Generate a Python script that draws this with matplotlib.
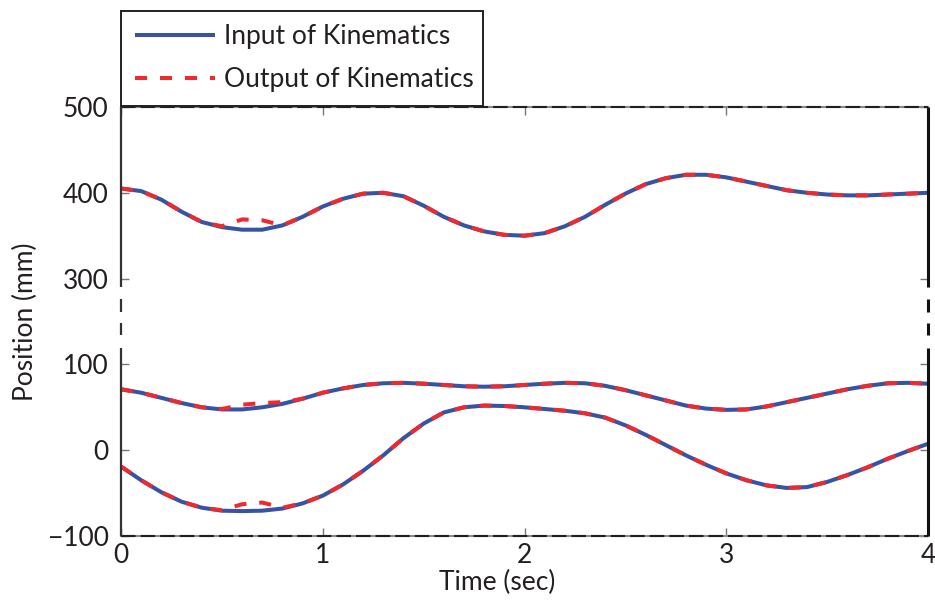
import numpy as np
import matplotlib
matplotlib.use("Agg")
import matplotlib.pyplot as plt
import matplotlib.transforms as mtransforms

# Temps (s)
t = np.round(np.arange(0, 4.01, 0.1), 2)

haut_in = [405, 402, 392, 378, 366, 360, 357, 357, 362, 372,
           384, 393, 399, 400, 396, 385, 372, 362, 355, 351,
           350, 353, 361, 372, 386, 399, 410, 417, 421, 421,
           418, 413, 408, 403, 400, 398, 397, 397, 398, 399, 400]
haut_out = [405, 402, 392, 378, 366, 361, 369, 368, 362, 372,
            384, 393, 399, 400, 396, 385, 372, 362, 355, 351,
            350, 353, 361, 372, 386, 399, 410, 417, 421, 421,
            418, 413, 408, 403, 400, 398, 397, 397, 398, 399, 400]

# Courbe du milieu (mm)
mil_in = [71, 67, 61, 55, 50, 47.5, 47.5, 50, 54, 60,
          67, 72, 76, 78, 78.5, 77.5, 76, 74.5, 74, 74.5,
          76, 77.5, 78.5, 78, 75, 70, 64, 58, 52, 48.5,
          47, 47.5, 51, 56, 61, 66, 71, 75, 78, 78.5, 77.5]
mil_out = [71, 67, 61, 55, 50, 48, 53, 55, 56, 60,
           67, 72, 76, 78, 78.5, 77.5, 76, 74.5, 74, 74.5,
           76, 77.5, 78.5, 78, 75, 70, 64, 58, 52, 48.5,
           47, 47.5, 51, 56, 61, 66, 71, 75, 78, 78.5, 77.5]

# Courbe basse (mm)
bas_in = [-19, -35, -49, -60, -67, -70.5, -71, -70.5, -68, -62,
          -53, -40, -24, -6, 14, 31, 44, 50, 52, 51.5,
          50, 48, 46, 43, 38, 29, 18, 6, -6, -17,
          -27, -35, -41, -44, -43, -37, -29, -20, -10, -1, 7.5]
bas_out = [-19, -35, -49, -60, -67, -70, -63, -61, -67, -62,
           -53, -40, -24, -6, 14, 31, 44, 50, 52, 51.5,
           50, 48, 46, 43, 38, 29, 18, 6, -6, -17,
           -27, -35, -41, -44, -43, -37, -29, -20, -10, -1, 7.5]

# Axe coupé : les valeurs 300-500 sont décalées de -100
decalage = 100
yticks_pos = [-100, 0, 100, 200, 300, 400]
yticks_lab = ["\u2212100", "0", "100", "300", "400", "500"]
xticks = [0, 1, 2, 3, 4]

bleu = "#3953a4"
rouge = "#ee2a2f"
gris = "#231f20"

plt.rcParams['font.family'] = ['Lato', 'DejaVu Sans']
plt.rcParams['font.size'] = 19

fig = plt.figure(figsize=(9.35, 6.05), dpi=100)
ax = fig.add_axes([121/935, 1-536/605, 807/935, 429/605])

l_in, = ax.plot(t, np.array(haut_in) - decalage, color=bleu, lw=2.9,
                solid_capstyle='butt', label="Input of Kinematics")
ax.plot(t, mil_in, color=bleu, lw=2.9, solid_capstyle='butt')
ax.plot(t, bas_in, color=bleu, lw=2.9, solid_capstyle='butt')

l_out, = ax.plot(t, np.array(haut_out) - decalage, color=rouge, lw=2.9,
                 dashes=(3, 3.2), label="Output of Kinematics")
ax.plot(t, mil_out, color=rouge, lw=2.9, dashes=(3, 3.2))
ax.plot(t, bas_out, color=rouge, lw=2.9, dashes=(3, 3.2))

ax.set_xlim(0, 4)
ax.set_ylim(-100, 400)
ax.set_xticks(xticks)
ax.set_yticks(yticks_pos)
ax.set_yticklabels(yticks_lab)
ax.tick_params(direction='in', length=5.5, width=1, color='#777777',
               top=True, right=True, labelcolor=gris)
ax.tick_params(axis='y', pad=9)
ax.tick_params(axis='x', pad=5)

# Cadre : haut et bas en pointillés, gauche et droite coupés
for s in ['left', 'right']:
    ax.spines[s].set_visible(False)
for s in ['top', 'bottom']:
    ax.spines[s].set_color('#8a8a8a')
    ax.spines[s].set_linewidth(1.5)
for yy in [0, 1]:
    ax.plot([0, 1], [yy, yy], transform=ax.transAxes, color=gris, lw=1.5,
            dashes=(7, 2.4), clip_on=False, zorder=5)

trans = mtransforms.blended_transform_factory(ax.transAxes, ax.transData)
morceaux = [(-100, 119), (134, 148), (161, 176), (190, 400)]
for xx, lw, c in [(0, 1.6, '#333333'), (1, 2.2, '#111111')]:
    for y0, y1 in morceaux:
        ax.plot([xx, xx], [y0, y1], transform=trans, color=c, lw=lw,
                solid_capstyle='butt', clip_on=False, zorder=5)

ax.set_xlabel("Time (sec)", color=gris)
ax.xaxis.set_label_coords(0.466, -0.078)
ax.set_ylabel("Position (mm)", color=gris)
ax.yaxis.set_label_coords(-0.103, 0.5)

leg = fig.legend(handles=[l_in, l_out], loc='lower left',
                 bbox_to_anchor=(121/935, 1-106/605, 362/935, 96/605),
                 mode='expand', borderaxespad=0, fancybox=False,
                 handlelength=3.03, handletextpad=0.34, labelspacing=0.68,
                 borderpad=0.52, framealpha=1, fontsize=19, labelcolor=gris)
leg.get_frame().set_edgecolor(gris)
leg.get_frame().set_linewidth(1.4)

fig.savefig("out.png", dpi=100)
